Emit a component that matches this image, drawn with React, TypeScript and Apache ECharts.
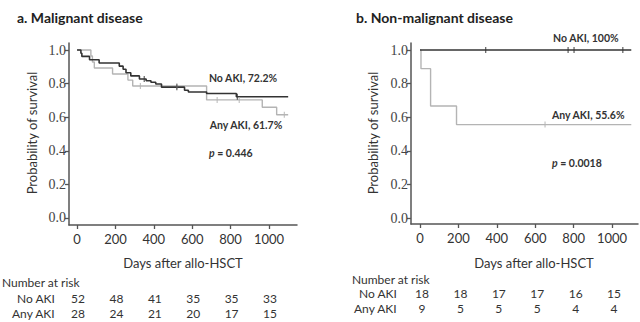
import React, { useEffect, useRef } from "react";
import * as echarts from "echarts";

// ---- data ----
const xTicks = [0, 200, 400, 600, 800, 1000];
const yTicks = [0, 0.2, 0.4, 0.6, 0.8, 1.0];

// Panel a: Malignant disease (Kaplan-Meier steps [day, survival])
const aNoAki: [number, number][] = [
  [0, 1.0], [20, 0.981], [25, 0.962], [65, 0.942], [115, 0.923], [220, 0.904],
  [240, 0.885], [255, 0.865], [280, 0.846], [325, 0.827], [360, 0.817], [385, 0.808],
  [410, 0.798], [440, 0.779], [560, 0.76], [580, 0.75], [675, 0.741], [830, 0.722], [1100, 0.722],
];
const aNoAkiCens: [number, number][] = [[350, 0.827], [520, 0.779], [835, 0.722]];
const aAnyAki: [number, number][] = [
  [0, 1.0], [72, 0.964], [80, 0.929], [90, 0.893], [185, 0.857], [265, 0.821],
  [290, 0.786], [675, 0.703], [965, 0.659], [1040, 0.615], [1100, 0.615],
];
const aAnyAkiCens: [number, number][] = [[330, 0.786], [520, 0.786], [730, 0.703], [845, 0.703], [1080, 0.615]];

// Panel b: Non-malignant disease
const bNoAki: [number, number][] = [[0, 1.0], [1100, 1.0]];
const bNoAkiCens: [number, number][] = [[342, 1.0], [771, 1.0], [802, 1.0], [1056, 1.0]];
const bAnyAki: [number, number][] = [[0, 1.0], [5, 0.889], [55, 0.667], [190, 0.556], [1100, 0.556]];
const bAnyAkiCens: [number, number][] = [[651, 0.556]];

// Number at risk
const riskA_No = [52, 48, 41, 35, 35, 33];
const riskA_Any = [28, 24, 21, 20, 17, 15];
const riskB_No = [18, 18, 17, 17, 16, 15];
const riskB_Any = [9, 5, 5, 5, 4, 4];

const titles = ["a. Malignant disease", "b. Non-malignant disease"];
const yName = "Probability of survival";
const xName = "Days after allo-HSCT";

const SANS = "Lato, sans-serif";
const SERIF = "Liberation Serif, serif";
const AXIS = "#555";
const DARK = "#333";
const LIGHT = "#b4b4b4";

function xAxisOf(gridIndex: number, min: number, max: number) {
  return {
    type: "value",
    gridIndex,
    min,
    max,
    axisLine: { show: true, onZero: false, lineStyle: { color: AXIS, width: 1.5 } },
    axisTick: { show: true, length: 4, customValues: xTicks, lineStyle: { color: AXIS, width: 1.3 } },
    axisLabel: {
      customValues: xTicks,
      margin: 7,
      fontFamily: SANS,
      fontSize: 13,
      color: DARK,
      formatter: (v: number) => String(v),
    },
    splitLine: { show: false },
  };
}
function yAxisOf(gridIndex: number, min: number, max: number) {
  return {
    type: "value",
    gridIndex,
    min,
    max,
    axisLine: { show: true, onZero: false, lineStyle: { color: AXIS, width: 1.5 } },
    axisTick: { show: true, length: 4, customValues: yTicks, lineStyle: { color: AXIS, width: 1.3 } },
    axisLabel: {
      customValues: yTicks,
      margin: 3,
      fontFamily: SERIF,
      fontSize: 14,
      color: "#444",
      formatter: (v: number) => v.toFixed(1),
    },
    splitLine: { show: false },
  };
}

function kmLine(data: [number, number][], idx: number, color: string, w: number) {
  return {
    type: "line",
    xAxisIndex: idx,
    yAxisIndex: idx,
    step: "end",
    data,
    showSymbol: false,
    symbol: "none",
    lineStyle: { color, width: w },
    z: color === DARK ? 3 : 2,
  };
}
function cens(data: [number, number][], idx: number, color: string) {
  return {
    type: "scatter",
    xAxisIndex: idx,
    yAxisIndex: idx,
    data,
    symbol: "rect",
    symbolSize: [1.2, 6],
    itemStyle: { color },
    z: 4,
  };
}

export default function App() {
  const ref = useRef<HTMLDivElement>(null);
  useEffect(() => {
    if (!ref.current) return;
    const chart = echarts.init(ref.current, null, { renderer: "svg" });
    chart.setOption({
      animation: false,
      backgroundColor: "#fff",
      grid: [
        { left: 69, top: 43, width: 228, height: 182 },
        { left: 411, top: 43, width: 227, height: 181 },
      ],
      xAxis: [xAxisOf(0, -42, 1146), xAxisOf(1, -47, 1135)],
      yAxis: [yAxisOf(0, -0.0417, 1.0417), yAxisOf(1, -0.0357, 1.0417)],
      series: [
        kmLine(aAnyAki, 0, LIGHT, 1.4),
        kmLine(aNoAki, 0, DARK, 1.6),
        cens(aAnyAkiCens, 0, LIGHT),
        cens(aNoAkiCens, 0, DARK),
        kmLine(bAnyAki, 1, LIGHT, 1.4),
        kmLine(bNoAki, 1, DARK, 1.6),
        cens(bAnyAkiCens, 1, LIGHT),
        cens(bNoAkiCens, 1, DARK),
      ],
    });

    const px = (idx: number, day: number) =>
      (chart.convertToPixel({ xAxisIndex: idx } as any, day) as unknown) as number;

    const txt = (text: string, x: number, y: number, o: any = {}) => ({
      type: "text",
      x,
      y,
      rotation: o.rotation || 0,
      style: {
        text,
        fontFamily: o.fontFamily || SANS,
        fontSize: o.fontSize || 12,
        fontWeight: o.fontWeight || "normal",
        fontStyle: o.fontStyle || "normal",
        fill: o.fill || DARK,
        align: o.align || "left",
        verticalAlign: "middle",
        rich: o.rich,
      },
    });

    const g: any[] = [];
    g.push(txt(titles[0], 17, 17, { fontSize: 14, fontWeight: "bold", fill: "#222" }));
    g.push(txt(titles[1], 356, 17, { fontSize: 14, fontWeight: "bold", fill: "#222" }));
    g.push(txt(yName, 32, 133, { fontSize: 13, align: "center", rotation: Math.PI / 2 }));
    g.push(txt(yName, 373, 133, { fontSize: 13, align: "center", rotation: Math.PI / 2 }));
    g.push(txt(xName, 183, 263, { fontSize: 13, align: "center" }));
    g.push(txt(xName, 534, 263, { fontSize: 13, align: "center" }));

    const ann = { fontSize: 10.5, fontWeight: "bold", fill: "#333" };
    const richP = { i: { fontStyle: "italic", fontWeight: "bold", fontSize: 10.5, fontFamily: SANS, fill: "#333" } };
    g.push(txt("No AKI, 72.2%", 243, 78, { ...ann, align: "center" }));
    g.push(txt("Any AKI, 61.7%", 246, 125, { ...ann, align: "center" }));
    g.push(txt("{i|p} = 0.446", 209, 153, { ...ann, rich: richP }));
    g.push(txt("No AKI, 100%", 553, 38, ann));
    g.push(txt("Any AKI, 55.6%", 552, 115, ann));
    g.push(txt("{i|p} = 0.0018", 552, 163, { ...ann, rich: richP }));

    // number at risk tables
    const rs = { fontSize: 12, fill: "#333" };
    g.push(txt("Number at risk", 2, 282, rs));
    g.push(txt("No AKI", 17, 298, rs));
    g.push(txt("Any AKI", 12, 313, rs));
    g.push(txt("Number at risk", 352, 279, rs));
    g.push(txt("No AKI", 359, 293, rs));
    g.push(txt("Any AKI", 354, 308, rs));
    xTicks.forEach((d, i) => {
      g.push(txt(String(riskA_No[i]), px(0, d) + 1, 298, { ...rs, align: "center" }));
      g.push(txt(String(riskA_Any[i]), px(0, d) + 1, 313, { ...rs, align: "center" }));
      g.push(txt(String(riskB_No[i]), px(1, d) + 2, 293, { ...rs, align: "center" }));
      g.push(txt(String(riskB_Any[i]), px(1, d) + 2, 308, { ...rs, align: "center" }));
    });

    chart.setOption({ graphic: g });
    return () => chart.dispose();
  }, []);
  return <div ref={ref} style={{ width: 640, height: 322, position: "absolute", left: 0, top: 0 }} />;
}
